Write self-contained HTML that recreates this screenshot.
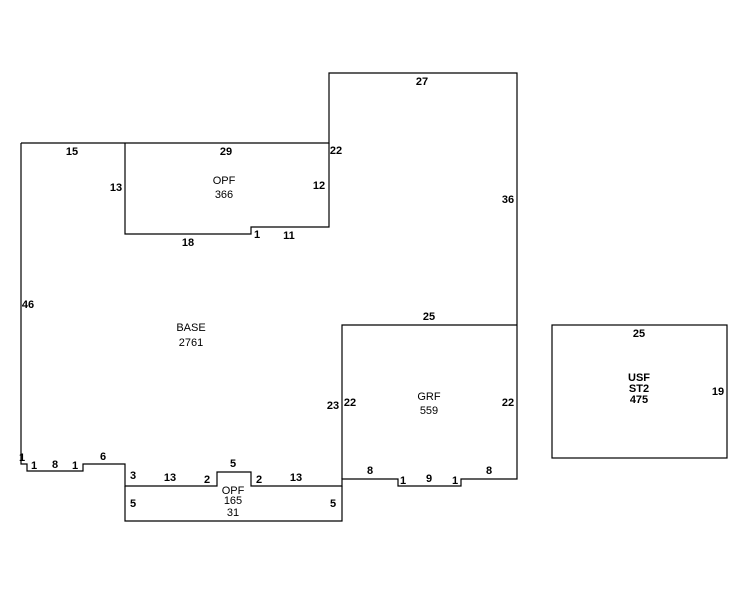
<!DOCTYPE html>
<html><head><meta charset="utf-8"><style>
html,body{margin:0;padding:0;background:#fff;width:746px;height:595px;overflow:hidden}
svg{display:block}
text{font-family:"Liberation Sans",Arial,sans-serif;font-size:11px;fill:#000;text-anchor:middle}
.b{font-weight:bold}
</style></head><body>
<svg width="746" height="595" viewBox="0 0 746 595">
<g fill="none" stroke="#000" stroke-width="1.2">
<polyline points="21,143 329,143 329,73 517,73 517,325"/>
<polyline points="21,143 21,464 27,464 27,471 83,471 83,464 125,464 125,486 217,486 217,472 251,472 251,486 342,486 342,479 398,479 398,486 461,486 461,479 517,479 517,325"/>
<polyline points="125,143 125,234 251,234 251,227 329,227 329,143"/>
<polyline points="342,479 342,325 517,325"/>
<polyline points="125,486 125,521 342,521 342,486"/>
<rect x="552" y="325" width="175" height="133"/>
</g>
<g class="b">
<text x="72" y="155">15</text>
<text x="226" y="155">29</text>
<text x="336" y="154">22</text>
<text x="422" y="85">27</text>
<text x="116" y="191">13</text>
<text x="319" y="189">12</text>
<text x="508" y="203">36</text>
<text x="188" y="246">18</text>
<text x="257" y="238">1</text>
<text x="289" y="239">11</text>
<text x="28" y="308">46</text>
<text x="429" y="320">25</text>
<text x="333" y="409">23</text>
<text x="350" y="406">22</text>
<text x="508" y="406">22</text>
<text x="639" y="337">25</text>
<text x="718" y="395">19</text>
<text x="22" y="461">1</text>
<text x="34" y="469">1</text>
<text x="55" y="468">8</text>
<text x="75" y="469">1</text>
<text x="103" y="460">6</text>
<text x="133" y="479">3</text>
<text x="170" y="481">13</text>
<text x="207" y="483">2</text>
<text x="233" y="467">5</text>
<text x="259" y="483">2</text>
<text x="296" y="481">13</text>
<text x="133" y="507">5</text>
<text x="333" y="507">5</text>
<text x="370" y="474">8</text>
<text x="403" y="484">1</text>
<text x="429" y="482">9</text>
<text x="455" y="484">1</text>
<text x="489" y="474">8</text>
<text x="639" y="381">USF</text>
<text x="639" y="392">ST2</text>
<text x="639" y="403">475</text>
</g>
<text x="224" y="184">OPF</text>
<text x="224" y="198">366</text>
<text x="191" y="331">BASE</text>
<text x="191" y="346">2761</text>
<text x="429" y="400">GRF</text>
<text x="429" y="414">559</text>
<text x="233" y="494">OPF</text>
<text x="233" y="504">165</text>
<text x="233" y="516">31</text>
</svg>
</body></html>
